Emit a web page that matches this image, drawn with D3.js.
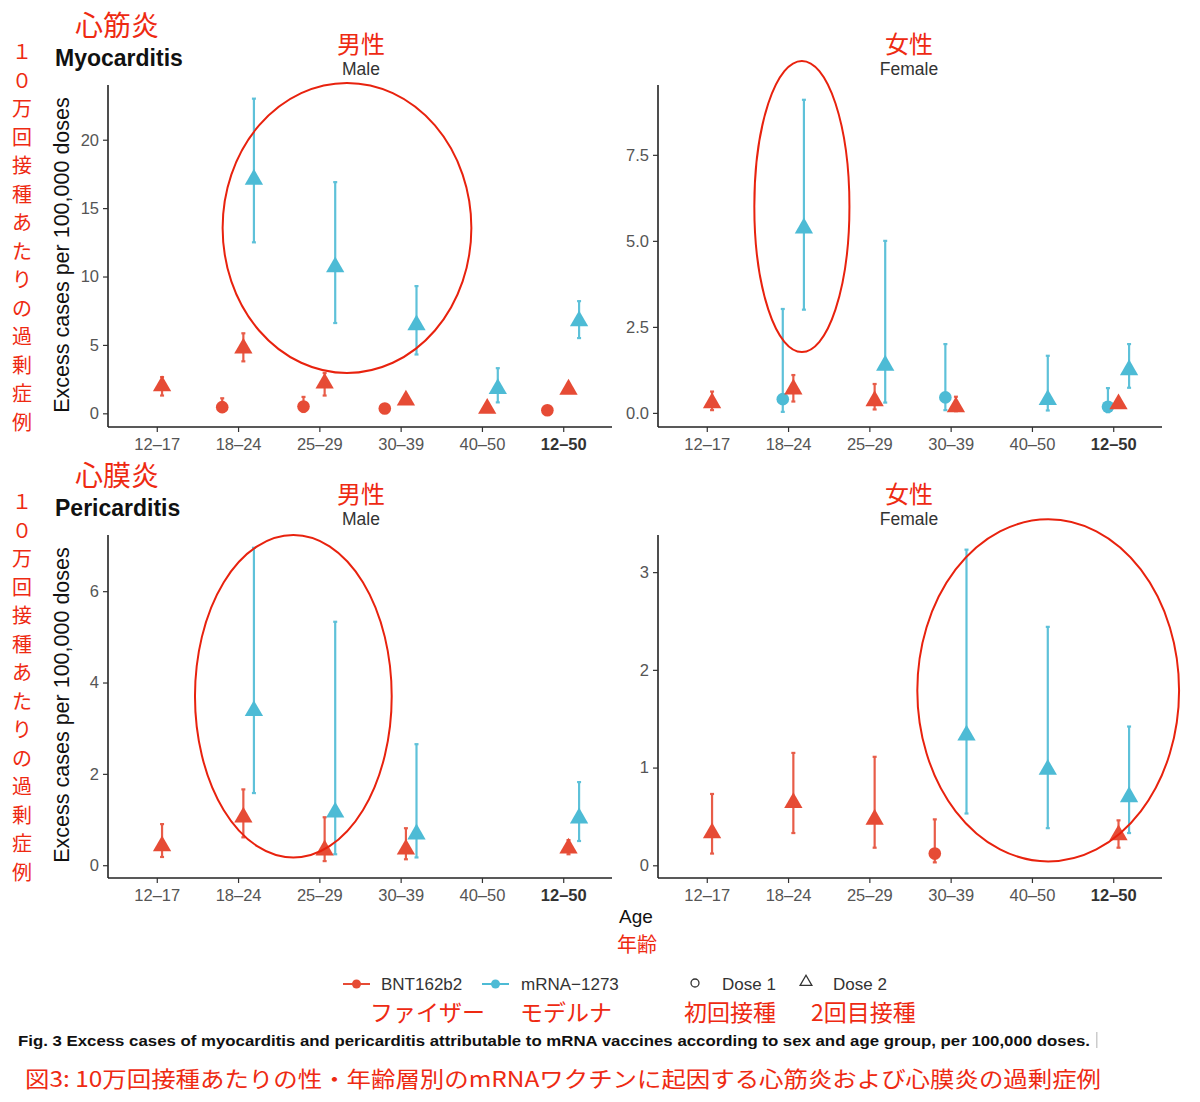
<!DOCTYPE html>
<html>
<head>
<meta charset="utf-8">
<script src="https://cdn.jsdelivr.net/npm/d3@7"></script>
<style>
  body { margin: 0; background: #fff; }
  text { font-family: "Liberation Sans", Arial, sans-serif; }
  .jp { font-family: "Noto Sans CJK JP", sans-serif; fill: #ee2a12; }
</style>
</head>
<body>
<svg id="chart" width="1200" height="1102"></svg>
<script>
'use strict';

// age groups (x categories)
var ages = ['12\u201317', '18\u201324', '25\u201329', '30\u201339', '40\u201350', '12\u201350'];
var groups = ['BNT162b2-1', 'mRNA-1273-1', 'BNT162b2-2', 'mRNA-1273-2'];

// [age, vaccine, dose, estimate, lower, upper]
var myoMale = [
  ['12\u201317', 'BNT162b2', 2, 2.0, 1.3, 2.65],
  ['18\u201324', 'BNT162b2', 1, 0.45, 0.1, 1.1],
  ['18\u201324', 'BNT162b2', 2, 4.75, 3.8, 5.85],
  ['18\u201324', 'mRNA-1273', 2, 17.1, 12.5, 23.0],
  ['25\u201329', 'BNT162b2', 1, 0.5, 0.1, 1.2],
  ['25\u201329', 'BNT162b2', 2, 2.2, 1.3, 2.95],
  ['25\u201329', 'mRNA-1273', 2, 10.7, 6.6, 16.9],
  ['30\u201339', 'BNT162b2', 1, 0.35, 0.2, 0.5],
  ['30\u201339', 'BNT162b2', 2, 0.95, 0.7, 1.25],
  ['30\u201339', 'mRNA-1273', 2, 6.45, 4.3, 9.3],
  ['40\u201350', 'BNT162b2', 2, 0.35, 0.2, 0.5],
  ['40\u201350', 'mRNA-1273', 2, 1.8, 0.8, 3.3],
  ['12\u201350', 'BNT162b2', 1, 0.22, 0.15, 0.3],
  ['12\u201350', 'BNT162b2', 2, 1.75, 1.6, 1.95],
  ['12\u201350', 'mRNA-1273', 2, 6.75, 5.5, 8.2]
];

var myoFemale = [
  ['12\u201317', 'BNT162b2', 2, 0.29, 0.08, 0.62],
  ['18\u201324', 'mRNA-1273', 1, 0.4, 0.03, 3.02],
  ['18\u201324', 'BNT162b2', 2, 0.69, 0.33, 1.1],
  ['18\u201324', 'mRNA-1273', 2, 5.37, 3.0, 9.1],
  ['25\u201329', 'BNT162b2', 2, 0.35, 0.1, 0.84],
  ['25\u201329', 'mRNA-1273', 2, 1.38, 0.3, 5.0],
  ['30\u201339', 'mRNA-1273', 1, 0.45, 0.08, 2.0],
  ['30\u201339', 'BNT162b2', 2, 0.17, 0.05, 0.47],
  ['40\u201350', 'mRNA-1273', 2, 0.38, 0.07, 1.66],
  ['12\u201350', 'mRNA-1273', 1, 0.18, 0.02, 0.72],
  ['12\u201350', 'BNT162b2', 2, 0.26, 0.2, 0.33],
  ['12\u201350', 'mRNA-1273', 2, 1.25, 0.73, 2.0]
];

var periMale = [
  ['12\u201317', 'BNT162b2', 2, 0.42, 0.18, 0.9],
  ['18\u201324', 'BNT162b2', 2, 1.05, 0.61, 1.66],
  ['18\u201324', 'mRNA-1273', 2, 3.38, 1.58, 6.95],
  ['25\u201329', 'BNT162b2', 2, 0.33, 0.09, 1.05],
  ['25\u201329', 'mRNA-1273', 2, 1.16, 0.24, 5.33],
  ['30\u201339', 'BNT162b2', 2, 0.35, 0.13, 0.81],
  ['30\u201339', 'mRNA-1273', 2, 0.68, 0.17, 2.65],
  ['12\u201350', 'BNT162b2', 2, 0.37, 0.24, 0.55],
  ['12\u201350', 'mRNA-1273', 2, 1.03, 0.53, 1.82]
];

var periFemale = [
  ['12\u201317', 'BNT162b2', 2, 0.33, 0.12, 0.73],
  ['18\u201324', 'BNT162b2', 2, 0.64, 0.33, 1.15],
  ['25\u201329', 'BNT162b2', 2, 0.47, 0.18, 1.11],
  ['30\u201339', 'BNT162b2', 1, 0.12, 0.03, 0.47],
  ['30\u201339', 'mRNA-1273', 2, 1.33, 0.53, 3.23],
  ['40\u201350', 'mRNA-1273', 2, 0.98, 0.38, 2.44],
  ['12\u201350', 'BNT162b2', 2, 0.31, 0.18, 0.46],
  ['12\u201350', 'mRNA-1273', 2, 0.7, 0.33, 1.42]
];

// y axis limits and ticks per panel
var myoMaleDomain = [-1.0, 24.0], myoMaleTicks = [0, 5, 10, 15, 20];
var myoFemaleDomain = [-0.41, 9.53], myoFemaleTicks = [0, 2.5, 5, 7.5];
var periMaleDomain = [-0.28, 7.23], periMaleTicks = [0, 2, 4, 6];
var periFemaleDomain = [-0.13, 3.38], periFemaleTicks = [0, 1, 2, 3];

// red annotation ellipses: [centre age index, centre value, half-width in age steps, half-height in values]
var myoMaleRing = [2.34, 13.55, 1.53, 10.6];
var myoFemaleRing = [1.17, 6.0, 0.585, 4.23];
var periMaleRing = [1.68, 3.7, 1.21, 3.53];
var periFemaleRing = [4.2, 1.79, 1.61, 1.75];

var color = d3.scaleOrdinal().domain(['BNT162b2', 'mRNA-1273']).range(['#E64B35', '#4DBBD5']),
    annoRed = '#e8220e',
    svg = d3.select('#chart');

function drawPanel(rows, domain, ticks, fmt, box, ring) {
  var g = svg.append('g').attr('transform', 'translate(' + box.x + ',' + box.y + ')'),
      w = box.w,
      h = box.h,
      x = d3.scalePoint().domain(ages).range([0, w]).padding(0.6),
      xIdx = d3.scaleLinear().domain([0, ages.length - 1]).range([x(ages[0]), x(ages[ages.length - 1])]),
      dodge = d3.scaleBand().domain(groups).range([-x.step() * 0.26, x.step() * 0.26]),
      y = d3.scaleLinear().domain(domain).range([h, 0]),
      data = rows.map(function (r) {
        return { age: r[0], vac: r[1], dose: r[2], est: r[3], lo: r[4], hi: r[5] };
      });

  function px(d) {
    return x(d.age) + dodge(d.vac + '-' + d.dose) + dodge.bandwidth() / 2;
  }

  // axes
  var xAxis = g.append('g').attr('transform', 'translate(0,' + h + ')')
    .call(d3.axisBottom(x).tickSize(5).tickPadding(6));
  var yAxis = g.append('g').call(d3.axisLeft(y).tickValues(ticks).tickFormat(fmt).tickSize(5).tickPadding(4));
  [xAxis, yAxis].forEach(function (a) {
    a.select('.domain').attr('stroke', '#222').attr('stroke-width', 1.6);
    a.selectAll('.tick line').attr('stroke', '#333').attr('stroke-width', 1.2);
    a.selectAll('.tick text').attr('fill', '#555').style('font-size', '16.5px');
  });
  xAxis.select('.domain').attr('d', 'M0,0H' + w);
  yAxis.select('.domain').attr('d', 'M0,0V' + h);
  xAxis.selectAll('.tick text').filter(function (d) { return d === '12\u201350'; })
    .attr('fill', '#333').style('font-weight', 'bold');

  // error bars
  var bars = g.append('g').selectAll('g').data(data).enter().append('g')
    .attr('stroke', function (d) { return color(d.vac); })
    .attr('stroke-width', 2.2)
    .attr('opacity', 0.9);
  bars.append('line')
    .attr('x1', px).attr('x2', px)
    .attr('y1', function (d) { return y(d.lo); })
    .attr('y2', function (d) { return y(d.hi); });
  bars.append('line')
    .attr('x1', function (d) { return px(d) - 2; }).attr('x2', function (d) { return px(d) + 2; })
    .attr('y1', function (d) { return y(d.hi); }).attr('y2', function (d) { return y(d.hi); });
  bars.append('line')
    .attr('x1', function (d) { return px(d) - 2; }).attr('x2', function (d) { return px(d) + 2; })
    .attr('y1', function (d) { return y(d.lo); }).attr('y2', function (d) { return y(d.lo); });

  // points: circle = dose 1, triangle = dose 2
  g.append('g').selectAll('path').data(data).enter().append('path')
    .attr('d', function (d) {
      return d.dose === 1 ? d3.symbol(d3.symbolCircle, 125)() : d3.symbol(d3.symbolTriangle, 145)();
    })
    .attr('transform', function (d) { return 'translate(' + px(d) + ',' + y(d.est) + ')'; })
    .attr('fill', function (d) { return color(d.vac); });

  // annotation ring
  g.append('ellipse')
    .attr('cx', xIdx(ring[0]))
    .attr('cy', y(ring[1]))
    .attr('rx', xIdx(ring[2]) - xIdx(0))
    .attr('ry', y(0) - y(ring[3]))
    .attr('fill', 'none')
    .attr('stroke', annoRed)
    .attr('stroke-width', 2);
}

var fmtInt = d3.format('d'), fmt1 = d3.format('.1f');
drawPanel(myoMale, myoMaleDomain, myoMaleTicks, fmtInt, { x: 108, y: 85, w: 504, h: 342 }, myoMaleRing);
drawPanel(myoFemale, myoFemaleDomain, myoFemaleTicks, fmt1, { x: 658, y: 85, w: 504, h: 342 }, myoFemaleRing);
drawPanel(periMale, periMaleDomain, periMaleTicks, fmtInt, { x: 108, y: 535, w: 504, h: 343 }, periMaleRing);
drawPanel(periFemale, periFemaleDomain, periFemaleTicks, fmtInt, { x: 658, y: 535, w: 504, h: 343 }, periFemaleRing);

// panel titles
function titles(top, jp, en) {
  svg.append('text').attr('class', 'jp').attr('x', 117).attr('y', top + 1).attr('text-anchor', 'middle')
    .style('font-size', '28px').text(jp);
  svg.append('text').attr('x', 55).attr('y', top + 31).style('font-size', '23px').style('font-weight', 'bold')
    .attr('fill', '#111').text(en);
  [[361, '男性', 'Male'], [909, '女性', 'Female']].forEach(function (s) {
    svg.append('text').attr('class', 'jp').attr('x', s[0]).attr('y', top + 18).attr('text-anchor', 'middle')
      .style('font-size', '24px').text(s[1]);
    svg.append('text').attr('x', s[0]).attr('y', top + 40).attr('text-anchor', 'middle')
      .style('font-size', '17.5px').attr('fill', '#333').text(s[2]);
  });
  // vertical Japanese y label
  var chars = '１０万回接種あたりの過剰症例'.split('');
  svg.append('g').selectAll('text').data(chars).enter().append('text')
    .attr('class', 'jp').attr('x', 22).attr('text-anchor', 'middle')
    .attr('y', function (d, i) { return top + 24 + i * 28.5; })
    .style('font-size', '20px').text(function (d) { return d; });
  svg.append('text')
    .attr('transform', 'translate(69,' + (top + 220) + ') rotate(-90)')
    .attr('text-anchor', 'middle').style('font-size', '21.5px').attr('fill', '#111')
    .text('Excess cases per 100,000 doses');
}
titles(35, '心筋炎', 'Myocarditis');
titles(485, '心膜炎', 'Pericarditis');

// x title
svg.append('text').attr('x', 636).attr('y', 923).attr('text-anchor', 'middle')
  .style('font-size', '19px').attr('fill', '#111').text('Age');
svg.append('text').attr('class', 'jp').attr('x', 637).attr('y', 952).attr('text-anchor', 'middle')
  .style('font-size', '20px').text('年齢');

// legend
var legend = svg.append('g').attr('transform', 'translate(0,984)');
[['BNT162b2', 343, 381], ['mRNA-1273', 482, 521]].forEach(function (k) {
  legend.append('line').attr('x1', k[1]).attr('x2', k[1] + 27).attr('y1', 0).attr('y2', 0)
    .attr('stroke', color(k[0])).attr('stroke-width', 2);
  legend.append('circle').attr('cx', k[1] + 13.5).attr('cy', 0).attr('r', 4.5).attr('fill', color(k[0]));
  legend.append('text').attr('x', k[2]).attr('y', 5.5).style('font-size', '17px').attr('fill', '#333')
    .text(k[0].replace('-', '\u2212'));
});
legend.append('path').attr('d', d3.symbol(d3.symbolCircle, 50)()).attr('transform', 'translate(695,-1)')
  .attr('fill', 'none').attr('stroke', '#333').attr('stroke-width', 1.3);
legend.append('text').attr('x', 722).attr('y', 5.5).style('font-size', '17px').attr('fill', '#333').text('Dose 1');
legend.append('path').attr('d', d3.symbol(d3.symbolTriangle, 60)()).attr('transform', 'translate(806,-2)')
  .attr('fill', 'none').attr('stroke', '#333').attr('stroke-width', 1.3);
legend.append('text').attr('x', 833).attr('y', 5.5).style('font-size', '17px').attr('fill', '#333').text('Dose 2');

[['ファイザー', 370], ['モデルナ', 520], ['初回接種', 684], ['2回目接種', 811]].forEach(function (k) {
  svg.append('text').attr('class', 'jp').attr('x', k[1]).attr('y', 1021).style('font-size', '23px').text(k[0]);
});

// captions
svg.append('text').attr('x', 18).attr('y', 1046).style('font-size', '15px').style('font-weight', 'bold')
  .style('font-family', '"Liberation Sans Narrow", "Liberation Sans", sans-serif').attr('fill', '#111')
  .attr('textLength', 1072).attr('lengthAdjust', 'spacingAndGlyphs')
  .text('Fig. 3 Excess cases of myocarditis and pericarditis attributable to mRNA vaccines according to sex and age group, per 100,000 doses.');
svg.append('rect').attr('x', 1096).attr('y', 1032).attr('width', 1.5).attr('height', 16).attr('fill', '#ccc');
svg.append('text').attr('class', 'jp').attr('x', 25).attr('y', 1087).style('font-size', '22px')
  .attr('textLength', 1076).attr('lengthAdjust', 'spacingAndGlyphs')
  .text('図3: 10万回接種あたりの性・年齢層別のmRNAワクチンに起因する心筋炎および心膜炎の過剰症例');
</script>
</body>
</html>
